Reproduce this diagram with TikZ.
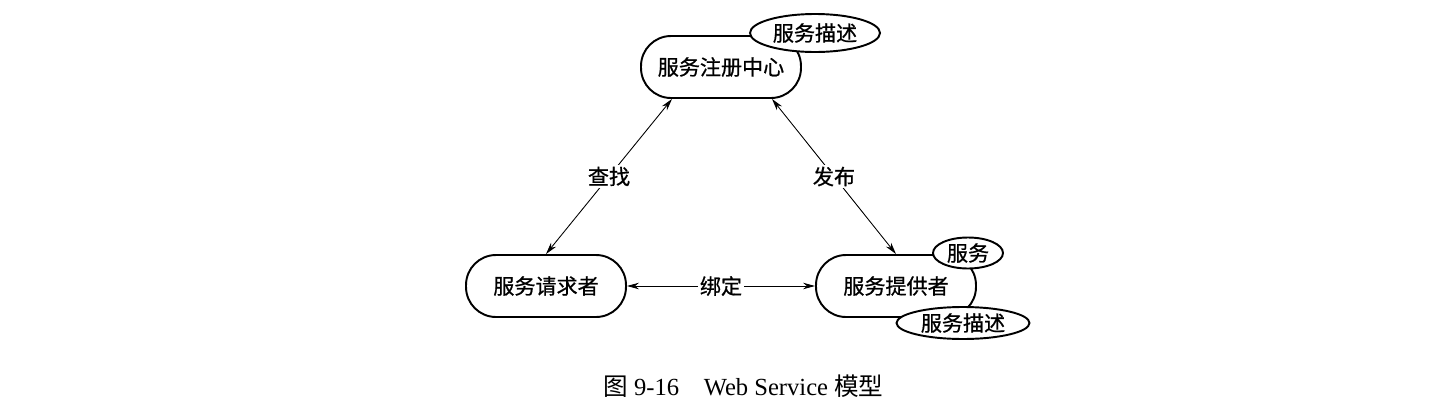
\documentclass[tikz,border=0pt]{standalone}
\usepackage{fontspec}
\setmainfont{Liberation Serif}
\newfontfamily\cjk[FakeBold=0.8]{Noto Sans CJK SC}
\newfontfamily\cjkcap{Noto Sans CJK SC}
\usepackage{tikz}
\usetikzlibrary{arrows.meta,shapes.geometric}
\tikzset{
  role/.style={draw, line width=1.1pt, rounded corners=0.6cm, minimum width=3.2cm, minimum height=1.24cm, align=center, font=\cjk\fontsize{12}{14}\selectfont},
  tag/.style={draw, ellipse, line width=1.1pt, fill=white, inner sep=0pt, font=\cjk\fontsize{12}{14}\selectfont},
  link/.style={{Stealth[length=2.4mm,width=1.3mm]}-{Stealth[length=2.4mm,width=1.3mm]}, line width=0.5pt},
  linklabel/.style={fill=white, inner sep=1pt, font=\cjk\fontsize{12}{14}\selectfont}
}
\begin{document}
\begin{tikzpicture}[x=0.02cm, y=-0.02cm]
    \useasboundingbox (0,0) rectangle (1434,416);

    % Registry
    \node[role] (reg) at (721,67) {服务注册中心};
    \node[tag, minimum width=2.6cm, minimum height=0.76cm] (reg_desc) at (815,33) {服务描述};

    % Requester
    \node[role] (req) at (546,286) {服务请求者};

    % Provider
    \node[role] (prov) at (896,286) {服务提供者};
    \node[tag, minimum width=1.4cm, minimum height=0.62cm] (prov_serv) at (968,253) {服务};
    \node[tag, minimum width=2.66cm, minimum height=0.64cm] (prov_desc) at (963,323) {服务描述};

    % Links
    \draw[link] ([xshift=-0.98cm]reg.south) -- (req.north) node[linklabel, midway] {查找};
    \draw[link] ([xshift=1.02cm]reg.south) -- (prov.north) node[linklabel, midway] {发布};
    \draw[link] (req.east) -- (prov.west) node[linklabel, midway] {绑定};

    % Caption
    \node[anchor=west, inner sep=0pt, font=\fontsize{14}{16}\selectfont] (caption) at (603,386) {{\cjkcap 图} 9-16\quad Web Service {\cjkcap 模型}};
\end{tikzpicture}
\end{document}
